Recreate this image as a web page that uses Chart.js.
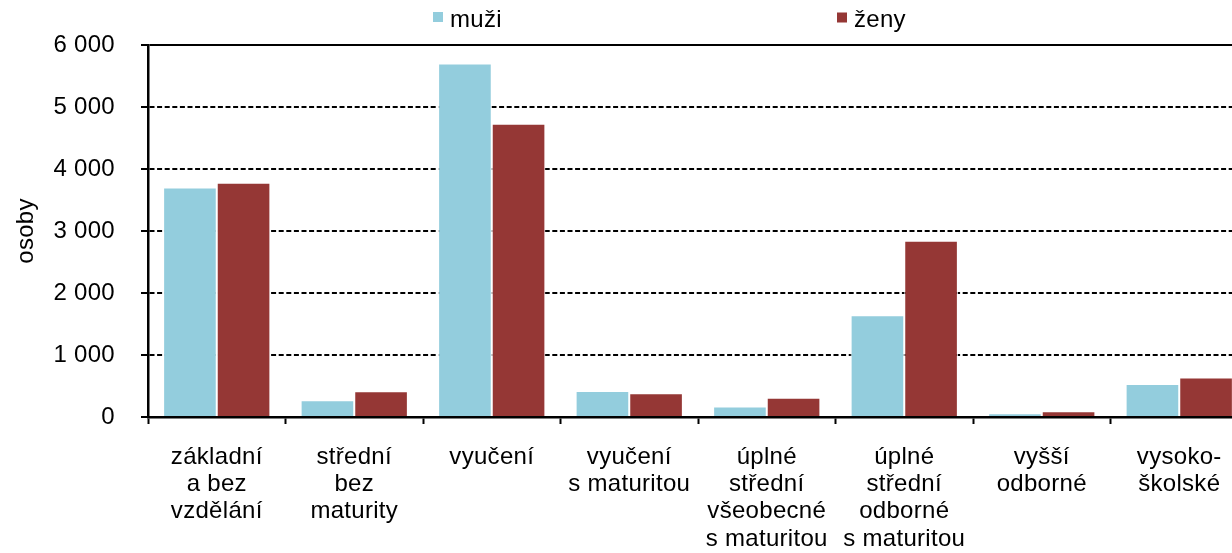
<!DOCTYPE html>
<html>
<head>
<meta charset="utf-8">
<script src="https://cdn.jsdelivr.net/npm/chart.js@4/dist/chart.umd.min.js"></script>
<style>
  html, body { margin: 0; padding: 0; background: #ffffff; overflow: hidden; }
  #wrap { position: relative; width: 1250px; height: 553px; }
</style>
</head>
<body>
<div id="wrap"><canvas id="c"></canvas></div>
<script>
const categories = [
  ['základní', 'a bez', 'vzdělání'],
  ['střední', 'bez', 'maturity'],
  ['vyučení'],
  ['vyučení', 's maturitou'],
  ['úplné', 'střední', 'všeobecné', 's maturitou'],
  ['úplné', 'střední', 'odborné', 's maturitou'],
  ['vyšší', 'odborné'],
  ['vysoko-', 'školské']
];
const seriesNames = ['muži', 'ženy'];
const muzi = [3700, 272, 5700, 420, 170, 1642, 62, 531];
const zeny = [3777, 417, 4730, 385, 310, 2843, 94, 639];
const yTicks = [0, 1000, 2000, 3000, 4000, 5000, 6000];
const yTitle = 'osoby';

const colors = ['#93CDDD', '#953735'];
const FONT = '"Liberation Sans", Arial, sans-serif';
const FS = 24;
const LS = '0.3px';

const spacingPlugin = {
  id: 'spacing',
  beforeUpdate(chart) { chart.ctx.letterSpacing = LS; },
  beforeDraw(chart) { chart.ctx.letterSpacing = LS; }
};

const extrasPlugin = {
  id: 'extras',
  afterDraw(chart) {
    const ctx = chart.ctx;
    ctx.save();
    ctx.letterSpacing = LS;
    ctx.font = FS + 'px ' + FONT;
    ctx.fillStyle = '#000';
    ctx.textBaseline = 'alphabetic';
    ctx.textAlign = 'left';
    // legend
    const items = [{x: 433, y: 12}, {x: 837, y: 12.5}];
    chart.data.datasets.forEach((ds, i) => {
      ctx.fillStyle = ds.backgroundColor;
      ctx.fillRect(items[i].x, items[i].y, 10, 10);
      ctx.fillStyle = '#000';
      ctx.fillText(ds.label, items[i].x + 17, 27);
    });
    // y title
    ctx.translate(33, (chart.chartArea.top + chart.chartArea.bottom) / 2);
    ctx.rotate(-Math.PI / 2);
    ctx.textAlign = 'center';
    ctx.fillText(yTitle, 0, 0);
    ctx.restore();
  }
};

new Chart(document.getElementById('c'), {
  type: 'bar',
  data: {
    labels: categories,
    datasets: [
      { label: seriesNames[0], data: muzi, backgroundColor: colors[0], borderColor: '#ffffff', borderWidth: 1 },
      { label: seriesNames[1], data: zeny, backgroundColor: colors[1], borderColor: '#ffffff', borderWidth: 1 }
    ]
  },
  options: {
    responsive: true,
    maintainAspectRatio: false,
    animation: false,
    events: [],
    layout: { padding: { left: 0, right: 2, top: 45, bottom: 0 } },
    datasets: { bar: { categoryPercentage: 0.78, barPercentage: 1.0 } },
    plugins: { legend: { display: false }, tooltip: { enabled: false }, title: { display: false } },
    scales: {
      x: {
        z: 1,
        grid: { display: true, drawOnChartArea: false, offset: true, tickLength: 7, tickColor: '#000', tickWidth: 2 },
        border: { display: true, color: '#000', width: 2.5 },
        ticks: {
          color: '#000',
          padding: 20,
          maxRotation: 0,
          autoSkip: false,
          font: { family: FONT, size: FS, lineHeight: 1.13 }
        },
        afterFit(scale) { scale.height = 136; }
      },
      y: {
        min: 0,
        max: 6000,
        afterBuildTicks(scale) { scale.ticks = yTicks.map(v => ({ value: v })); },
        grid: { color: '#000', lineWidth: 2, tickLength: 7, tickColor: '#000', tickWidth: 2 },
        border: {
          display: true, color: '#000', width: 2.5,
          dash: (c) => (c.tick && c.tick.value === 6000) ? [] : [5, 2.6]
        },
        ticks: {
          color: '#000',
          padding: 26,
          font: { family: FONT, size: FS },
          callback: (v) => v === 0 ? '0' : (Math.floor(v / 1000) + '\u00a0' + String(v % 1000).padStart(3, '0'))
        },
        afterFit(scale) { scale.width = 148; }
      }
    }
  },
  plugins: [spacingPlugin, extrasPlugin]
});
</script>
</body>
</html>
